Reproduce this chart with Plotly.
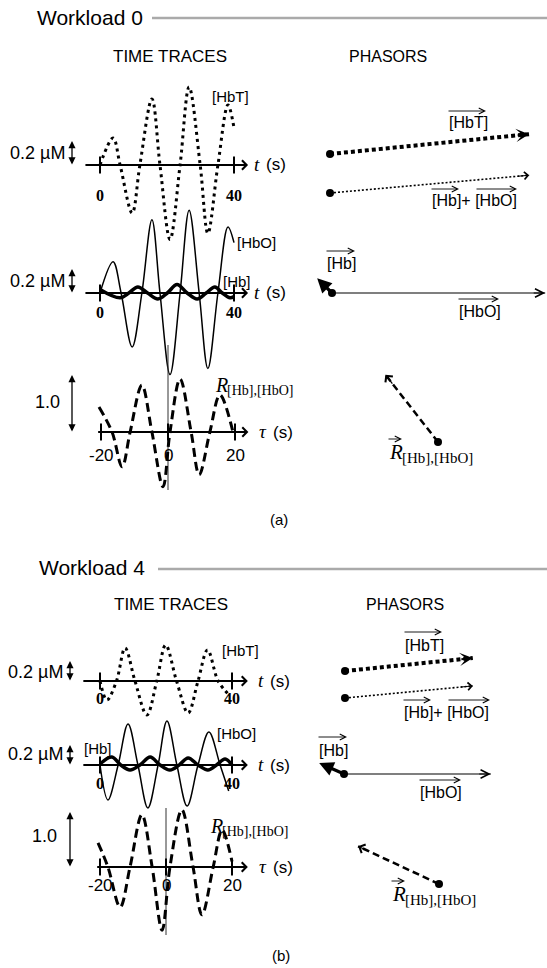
import math
import plotly.graph_objects as go

W, H = 547, 968

# ===================== DATA =====================
# --- Workload 0, time traces: t in s, concentration in µM ---
w0_hbt_t = [0, 3.9, 6.0, 9.6, 11.9, 15.5, 17.9, 20.9, 23.9, 26.6, 29.9, 32.2, 35.2, 38.2, 40.0]
w0_hbt_v = [0, 0.225, 0, -0.40, 0, 0.55, 0, -0.62, 0, 0.65, 0, -0.57, 0, 0.50, 0.31]
w0_hbo_t = [0, 3.9, 6.3, 9.6, 12.5, 15.5, 17.9, 20.9, 23.9, 26.6, 29.6, 32.2, 35.2, 38.2, 40.0]
w0_hbo_v = [0, 0.26, 0, -0.45, 0, 0.61, 0, -0.68, 0, 0.69, 0, -0.63, 0, 0.55, 0.42]
w0_hb_t = [0, 6.0, 8.6, 11.3, 14.2, 17.3, 20.1, 23.0, 26.0, 29.0, 31.7, 34.3, 36.5, 38.8, 40.0]
w0_hb_v = [0.03, -0.04, 0, 0.05, 0, -0.05, 0, 0.07, 0, -0.05, 0, 0.05, 0, -0.04, -0.03]
# cross-correlation R[Hb],[HbO] vs lag tau (s)
w0_r_tau = [-20.6, -16.7, -13.7, -11.3, -7.8, -4.8, -1.5, 0.6, 3.6, 6.9, 9.3, 12.5, 15.5, 19.4]
w0_r_v = [0.44, 0, -0.61, 0, 0.82, 0, -0.96, 0, 0.93, 0, -0.75, 0, 0.65, 0]

# --- Workload 4 ---
w4_hbt_t = [0, 2.1, 5.0, 7.6, 10.6, 14.2, 17.2, 19.9, 23.2, 26.7, 29.7, 32.6, 35.8, 39.4]
w4_hbt_v = [0, -0.19, 0, 0.33, 0, -0.34, 0, 0.36, 0, -0.32, 0, 0.31, 0, -0.15]
w4_hbo_t = [0, 2.4, 5.5, 8.5, 11.5, 14.5, 17.6, 20.3, 23.3, 26.4, 29.7, 33.0, 36.4, 39.0]
w4_hbo_v = [0, -0.35, 0, 0.41, 0, -0.43, 0, 0.44, 0, -0.41, 0, 0.33, 0, -0.26]
w4_hb_t = [0, 3.6, 6.3, 9.1, 12.1, 15.2, 18.2, 21.2, 24.0, 26.7, 29.7, 32.7, 35.3, 37.9, 40.0]
w4_hb_v = [0.01, 0.08, 0, -0.05, 0, 0.08, 0, -0.05, 0, 0.07, 0, -0.05, 0, 0.06, 0.0]
w4_r_tau = [-20.6, -17.6, -13.9, -10.9, -7.3, -4.2, -1.2, 1.2, 4.8, 8.2, 10.9, 14.3, 17.0, 20.0]
w4_r_v = [0.44, 0, -0.73, 0, 0.95, 0, -1.15, 0, 1.04, 0, -0.87, 0, 0.67, 0.1]

# tick labels and scale bars
t_ticks = [0, 40]
t_tick_text = ["0", "40"]
tau_ticks = [-20, 0, 20]
tau_tick_text = ["-20", "0", "20"]
conc_bar = 0.2          # µM
conc_bar_text = "0.2 µM"
corr_bar = 1.0
corr_bar_text = "1.0"

# phasors: order = HbT, Hb+HbO, HbO, Hb, R  (amplitude in µM, R unitless; phase in degrees)
w0_ph_amp = [0.61, 0.61, 0.65, 0.064, 0.90]
w0_ph_deg = [5.7, 5.1, 0.0, 135.0, 128.0]
w4_ph_amp = [0.35, 0.35, 0.40, 0.074, 0.94]
w4_ph_deg = [5.8, 5.4, 0.0, 156.0, 155.0]

panel_titles = ["Workload 0", "Workload 4"]
panel_tags = ["(a)", "(b)"]

# ===================== helpers =====================
SANS = "Liberation Sans, Arial, sans-serif"
SERIF = "Liberation Serif, Times New Roman, serif"

fig = go.Figure()
ann = []
shapes = []
axes = {}
count = [0]


def new_axes(box, origin, scale):
    count[0] += 1
    k = count[0]
    s = "" if k == 1 else str(k)
    L, R, T, B = box
    L, R, T, B = max(0, L), min(W, R), max(0, T), min(H, B)
    ox, oy = origin
    sx, sy = scale
    axes["xaxis" + s] = dict(domain=[L / W, R / W], range=[(L - ox) / sx, (R - ox) / sx],
                             visible=False, anchor="y" + s, fixedrange=True)
    axes["yaxis" + s] = dict(domain=[1 - B / H, 1 - T / H], range=[(oy - B) / sy, (oy - T) / sy],
                             visible=False, anchor="x" + s, fixedrange=True)
    return "x" + s, "y" + s


def P(x, y):
    return x / W, 1 - y / H


def text(x, y, s, size=16, family=SANS, xanchor="center", yanchor="middle"):
    px, py = P(x, y)
    ann.append(dict(x=px, y=py, xref="paper", yref="paper", text=s, showarrow=False,
                    xanchor=xanchor, yanchor=yanchor,
                    font=dict(family=family, size=size, color="black")))


def arrow(**kw):
    d = dict(text="", showarrow=True, arrowcolor="black", font=dict(size=1),
             borderpad=0, standoff=0)
    d.update(kw)
    ann.append(d)


def over_arrow(x0, x1, y):
    px, py = P(x1, y)
    arrow(x=px, y=py, xref="paper", yref="paper", ax=-(x1 - x0), ay=0,
          arrowhead=5, arrowwidth=0.9, arrowsize=1.3)


def unit_label(x, y, sym):
    # italic serif symbol followed by "(s)"
    text(x, y - 1, "<i>" + sym + "</i>", size=19, family=SERIF, xanchor="left")
    text(x + (12 if sym == "t" else 14), y, "(s)", size=17, xanchor="left")


def r_label(x, y, size=20):
    text(x, y, "<i>R</i>", size=size, family=SERIF, xanchor="left")
    text(x + 0.62 * size, y + 0.28 * size, "[Hb],[HbO]", size=round(0.7 * size),
         family=SERIF, xanchor="left")


def line_trace(xa, ya, xs, ys, **style):
    st = dict(color="black")
    st.update(style)
    fig.add_trace(go.Scatter(x=xs, y=ys, xaxis=xa, yaxis=ya, mode="lines",
                             line=st, cliponaxis=False,
                             hoverinfo="skip", showlegend=False))


def time_row(origin, scale, curves, span, ticks, tick_text, tick_font, tick_dy,
             bar_px, bar_len, zero_line=None):
    ox, oy = origin
    sx, sy = scale
    xa, ya = new_axes((0, 300, oy - 170, oy + 120), origin, scale)
    if zero_line is not None:
        line_trace(xa, ya, [0, 0], [(oy - zero_line[0]) / sy, (oy - zero_line[1]) / sy],
                   width=1, color="#333")
    for xs, ys, st in curves:
        line_trace(xa, ya, xs, ys, shape="spline", **st)
    arrow(xref=xa, yref=ya, axref=xa, ayref=ya, x=span[1], y=0, ax=span[0], ay=0,
          arrowhead=4, arrowsize=0.9, arrowwidth=2)
    fig.add_trace(go.Scatter(x=ticks, y=[0] * len(ticks), xaxis=xa, yaxis=ya, mode="markers",
                             marker=dict(symbol="line-ns-open", size=12, color="black",
                                         line=dict(width=2, color="black")),
                             cliponaxis=False, hoverinfo="skip", showlegend=False))
    for v, s in zip(ticks, tick_text):
        ann.append(dict(xref=xa, yref=ya, x=v, y=0, yshift=-tick_dy, text=s, showarrow=False,
                        xanchor="center", yanchor="middle", font=tick_font))
    bx = (bar_px - ox) / sx
    arrow(xref=xa, yref=ya, axref=xa, ayref=ya, x=bx, y=bar_len, ax=bx, ay=0,
          arrowside="end+start", arrowhead=2, startarrowhead=2, arrowsize=1.1,
          startarrowsize=1.1, arrowwidth=1.3, startstandoff=0)


PH_LINE = {"HbT": dict(width=4, dash="4px,3px"),
           "sum": dict(width=1.6, dash="2px,2px"),
           "HbO": dict(width=1.1),
           "R": dict(width=2.5, dash="7px,4px")}
PH_HEAD = {"HbT": dict(arrowhead=3, arrowwidth=2.0, arrowsize=1.1),
           "sum": dict(arrowhead=4, arrowwidth=1.0, arrowsize=1.5),
           "HbO": dict(arrowhead=5, arrowwidth=1.1, arrowsize=1.5),
           "R": dict(arrowhead=4, arrowwidth=1.3, arrowsize=1.4)}


def phasor(origin, scale_px, amp, deg, kind, dot=True):
    xa, ya = new_axes((origin[0] - 160, origin[0] + 260, origin[1] - 150, origin[1] + 60),
                      origin, (scale_px, scale_px))
    r = math.radians(deg)
    x1, y1 = amp * math.cos(r), amp * math.sin(r)
    if kind in PH_LINE:
        line_trace(xa, ya, [0, x1], [0, y1], **PH_LINE[kind])
        f = 1 - 12.0 / (amp * scale_px)
        arrow(xref=xa, yref=ya, axref=xa, ayref=ya, x=x1, y=y1, ax=f * x1, ay=f * y1,
              **PH_HEAD[kind])
    else:  # short thick Hb phasor
        arrow(xref=xa, yref=ya, axref=xa, ayref=ya, x=x1, y=y1, ax=0, ay=0,
              arrowhead=2, arrowwidth=3.2, arrowsize=0.9)
    if dot:
        fig.add_trace(go.Scatter(x=[0], y=[0], xaxis=xa, yaxis=ya, mode="markers",
                                 marker=dict(size=8, color="black"), cliponaxis=False,
                                 hoverinfo="skip", showlegend=False))


TICK_BOLD = dict(family=SERIF, size=16, color="black", weight="bold")
TICK_SANS = dict(family=SANS, size=17, color="black")
HBT_ST = dict(width=3, dash="3px,4px")
HBO_ST = dict(width=1.5)
HB_ST = dict(width=3.5)
R_ST = dict(width=3, dash="9px,5px")

# ===================== Panel (a): Workload 0 =====================
text(35, 17, panel_titles[0], size=21, xanchor="left")
shapes.append(dict(type="line", xref="paper", yref="paper", x0=152 / W, x1=1, y0=1 - 18 / H,
                   y1=1 - 18 / H, line=dict(color="#aaaaaa", width=2.5)))
text(170, 56, "TIME TRACES", size=17)
text(388, 56, "PHASORS", size=16)

sx_a = 3.35
time_row((100, 165), (sx_a, 120), [(w0_hbt_t, w0_hbt_v, HBT_ST)], (-4.5, 44.2),
         t_ticks, t_tick_text, TICK_BOLD, 30, 72, conc_bar)
time_row((100, 293), (sx_a, 120), [(w0_hbo_t, w0_hbo_v, HBO_ST), (w0_hb_t, w0_hb_v, HB_ST)],
         (-4.5, 44.2), t_ticks, t_tick_text, TICK_BOLD, 20, 72, conc_bar)
time_row((168, 432), (sx_a, 57), [(w0_r_tau, w0_r_v, R_ST)], (-21.0, 24.0),
         tau_ticks, tau_tick_text, TICK_SANS, 23, 72, corr_bar, zero_line=(345, 490))

text(67, 153, conc_bar_text, size=18, xanchor="right")
text(67, 281, conc_bar_text, size=18, xanchor="right")
text(47, 402, corr_bar_text, size=18)
unit_label(252, 165, "t")
unit_label(252, 293, "t")
unit_label(257, 432, "τ")
text(210, 97, "[HbT]", size=15, xanchor="left")
text(235, 242, "[HbO]", size=15, xanchor="left")
text(221, 281, "[Hb]", size=15, xanchor="left")
r_label(213, 385, 20)

ph_scale_a = 328
phasor((330, 154), ph_scale_a, w0_ph_amp[0], w0_ph_deg[0], "HbT")
phasor((330, 193), ph_scale_a, w0_ph_amp[1], w0_ph_deg[1], "sum")
phasor((332, 293), ph_scale_a, w0_ph_amp[2], w0_ph_deg[2], "HbO", dot=False)
phasor((332, 293), ph_scale_a, w0_ph_amp[3], w0_ph_deg[3], "Hb")
phasor((438, 442), 95, w0_ph_amp[4], w0_ph_deg[4], "R")

text(447, 123, "[HbT]", size=16, xanchor="left"); over_arrow(448, 486, 111)
text(430, 201, "[Hb]+ [HbO]", size=16, xanchor="left")
over_arrow(431, 459, 189); over_arrow(476, 517, 189)
text(325, 263, "[Hb]", size=16, xanchor="left"); over_arrow(326, 355, 251)
text(457, 311, "[HbO]", size=16, xanchor="left"); over_arrow(458, 499, 299)
r_label(387, 452, 21); over_arrow(388, 402, 439)

text(279, 519, panel_tags[0], size=15)

# ===================== Panel (b): Workload 4 =====================
text(37, 567, panel_titles[1], size=21, xanchor="left")
shapes.append(dict(type="line", xref="paper", yref="paper", x0=158 / W, x1=1, y0=1 - 569 / H,
                   y1=1 - 569 / H, line=dict(color="#aaaaaa", width=2.5)))
text(171, 604, "TIME TRACES", size=17)
text(405, 604, "PHASORS", size=16)

sx_b = 3.3
time_row((100, 681), (sx_b, 100), [(w4_hbt_t, w4_hbt_v, HBT_ST)], (-5.2, 44.8),
         t_ticks, t_tick_text, TICK_BOLD, 17, 70, conc_bar)
time_row((100, 765), (sx_b, 100), [(w4_hbo_t, w4_hbo_v, HBO_ST), (w4_hb_t, w4_hb_v, HB_ST)],
         (-5.2, 44.8), t_ticks, t_tick_text, TICK_BOLD, 18, 70, conc_bar)
time_row((166, 867), (sx_b, 55), [(w4_r_tau, w4_r_v, R_ST)], (-21.0, 24.8),
         tau_ticks, tau_tick_text, TICK_SANS, 18, 70, corr_bar, zero_line=(808, 935))

text(65, 672, conc_bar_text, size=18, xanchor="right")
text(65, 754, conc_bar_text, size=18, xanchor="right")
text(44, 836, corr_bar_text, size=18)
unit_label(256, 681, "t")
unit_label(256, 765, "t")
unit_label(257, 867, "τ")
text(220, 650, "[HbT]", size=15, xanchor="left")
text(215, 733, "[HbO]", size=15, xanchor="left")
text(82, 748, "[Hb]", size=15, xanchor="left")
r_label(208, 826, 20)

ph_scale_b = 367
phasor((345, 671), ph_scale_b, w4_ph_amp[0], w4_ph_deg[0], "HbT")
phasor((345, 698), ph_scale_b, w4_ph_amp[1], w4_ph_deg[1], "sum")
phasor((344, 774), ph_scale_b, w4_ph_amp[2], w4_ph_deg[2], "HbO", dot=False)
phasor((344, 774), ph_scale_b, w4_ph_amp[3], w4_ph_deg[3], "Hb")
phasor((439, 884), 95, w4_ph_amp[4], w4_ph_deg[4], "R")

text(403, 645, "[HbT]", size=16, xanchor="left"); over_arrow(404, 442, 632)
text(402, 712, "[Hb]+ [HbO]", size=16, xanchor="left")
over_arrow(403, 431, 700); over_arrow(448, 490, 700)
text(317, 750, "[Hb]", size=16, xanchor="left"); over_arrow(318, 347, 737)
text(418, 792, "[HbO]", size=16, xanchor="left"); over_arrow(419, 461, 780)
r_label(390, 894, 21); over_arrow(391, 405, 881)

text(281, 955, panel_tags[1], size=15)

fig.update_layout(width=W, height=H, autosize=False,
                  margin=dict(l=0, r=0, t=0, b=0, pad=0),
                  paper_bgcolor="white", plot_bgcolor="rgba(0,0,0,0)",
                  showlegend=False, hovermode=False,
                  annotations=ann, shapes=shapes, **axes)
fig.write_html("out.html", config={"displayModeBar": False},
               post_script="document.body.style.margin='0';document.body.style.overflow='hidden';")
